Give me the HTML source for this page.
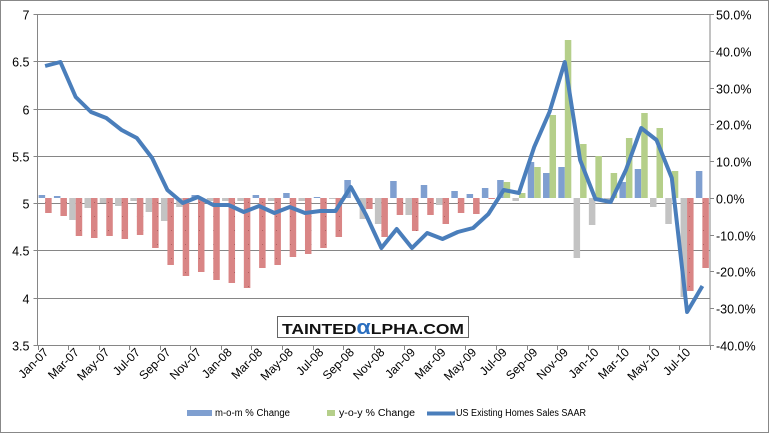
<!DOCTYPE html>
<html><head><meta charset="utf-8"><style>
html,body{margin:0;padding:0;background:#fff;}
svg{display:block;font-family:"Liberation Sans",sans-serif;}
</style></head><body>
<svg id="c" width="769" height="433" viewBox="0 0 769 433" xmlns="http://www.w3.org/2000/svg">
<defs>
<pattern id="dots" width="7" height="14" patternUnits="userSpaceOnUse">
<rect width="7" height="14" fill="#d98585"/>
<rect x="3" y="6" width="1" height="1" fill="#b06060"/>
</pattern>
</defs>
<rect x="0.5" y="0.5" width="768" height="432" fill="#fff" stroke="#888"/>
<g id="grid" stroke="#868686" stroke-width="1"></g>
<g id="bars"></g>
<g id="axes" stroke="#868686" stroke-width="1" fill="none"></g>
<polyline id="ln" fill="none" stroke="#4a7ebb" stroke-width="4" stroke-linejoin="round"/>
<g id="lab" font-size="12.5" fill="#000"></g>
<g id="xl" font-size="12" fill="#000"></g>
<rect x="277.5" y="316.5" width="191" height="21" fill="#fff" stroke="#666"/>
<text x="282" y="334" font-size="15" font-weight="bold" fill="#111" textLength="182" lengthAdjust="spacingAndGlyphs">TAINTED<tspan fill="#2b6fc0" font-size="20">α</tspan>LPHA.COM</text>
<rect x="187" y="410" width="25" height="6" fill="#7f9fd0"/>
<text x="215" y="416" font-size="10" textLength="75" lengthAdjust="spacingAndGlyphs">m-o-m % Change</text>
<rect x="327" y="410" width="8" height="6" fill="#b5cf8a"/>
<text x="339" y="416" font-size="10" textLength="76" lengthAdjust="spacingAndGlyphs">y-o-y % Change</text>
<line x1="427" y1="413.5" x2="455" y2="413.5" stroke="#4a7ebb" stroke-width="4"/>
<text x="456" y="416" font-size="10" textLength="130" lengthAdjust="spacingAndGlyphs">US Existing Homes Sales SAAR</text>
</svg>
<script>
var NS="http://www.w3.org/2000/svg";
function el(p,t,a,txt){var e=document.createElementNS(NS,t);for(var k in a)e.setAttribute(k,a[k]);if(txt!=null)e.textContent=txt;document.getElementById(p).appendChild(e);return e;}
var L=37.5,R=710,T=14,B=345;
var lv=["7","6.5","6","5.5","5","4.5","4","3.5"];
for(var i=0;i<8;i++){var y=T+i*(B-T)/7;y=Math.round(y)+0.5;
 if(i<7)el("grid","line",{x1:L,x2:R,y1:y,y2:y});
 el("axes","line",{x1:L-4,x2:L,y1:y,y2:y});
 el("lab","text",{x:L-8,y:y+5,"text-anchor":"end"},lv[i]);}
var rv=["50.0%","40.0%","30.0%","20.0%","10.0%","0.0%","-10.0%","-20.0%","-30.0%","-40.0%"];
for(var i=0;i<10;i++){var y=Math.round(T+i*(B-T)/9)+0.5;
 el("axes","line",{x1:R,x2:R+4,y1:y,y2:y});
 el("lab","text",{x:R+6,y:y+5},rv[i]);}
el("axes","line",{x1:L,x2:L,y1:T,y2:B});
el("axes","line",{x1:R,x2:R,y1:T,y2:B});
el("axes","line",{x1:L,x2:R,y1:B+0.5,y2:B+0.5});
var w=(R-L)/44;
for(var k=0;k<=22;k++){var x=Math.round(L+k*2*w)+0.5;el("axes","line",{x1:x,x2:x,y1:B,y2:B+5});}
var mon=["Jan","Mar","May","Jul","Sep","Nov"];
for(var k=0;k<22;k++){var x=L+k*2*w+w/2+4,y=353;var yr=7+Math.floor(k/6);
 el("xl","text",{x:x,y:y,"text-anchor":"end",transform:"rotate(-45 "+x+" "+y+")"},mon[k%6]+"-"+(yr<10?"0"+yr:yr));}
var Z=198;
var mom=[195,196,220,208,203,206,201,212,221,207,195,201,201,201,195,201,193,201,197,199,180,219,224,181,215,185,205,191,194,188,180,201,162,173,167,258,225,201,182,169,207,224,297,171];
var yoy=[213,216,236,238,236,239,235,248,265,276,272,280,283,288,268,265,257,254,248,237,198,209,237,215,231,215,224,213,214,199,182,193,167,115,40,144,156,173,138,113,128,171,291,268];
var ly=[66,62,97,112,118,130,138,158,190,203,197,205,205,212,206,213,207,213,211,211,187,215,248,229,248,233,239,232,228,214,190,193,147,112,62,160,199,202,170,128,140,178,312,286];
var pts=[];
for(var i=0;i<44;i++){var c=L+w*i+w/2;
 var m=mom[i];if(m!=Z){el("bars","rect",{x:c-6.5,y:Math.min(m,Z),width:6.5,height:Math.abs(m-Z),fill:m<Z?"#7f9fd0":"#c3c3c3"});}
 var g=yoy[i];if(g!=Z){el("bars","rect",{x:c,y:Math.min(g,Z),width:6.5,height:Math.abs(g-Z),fill:g<Z?"#b5cf8a":"url(#dots)"});}
 pts.push(c.toFixed(1)+","+ly[i]);}
document.getElementById("ln").setAttribute("points",pts.join(" "));
</script>
</body></html>
